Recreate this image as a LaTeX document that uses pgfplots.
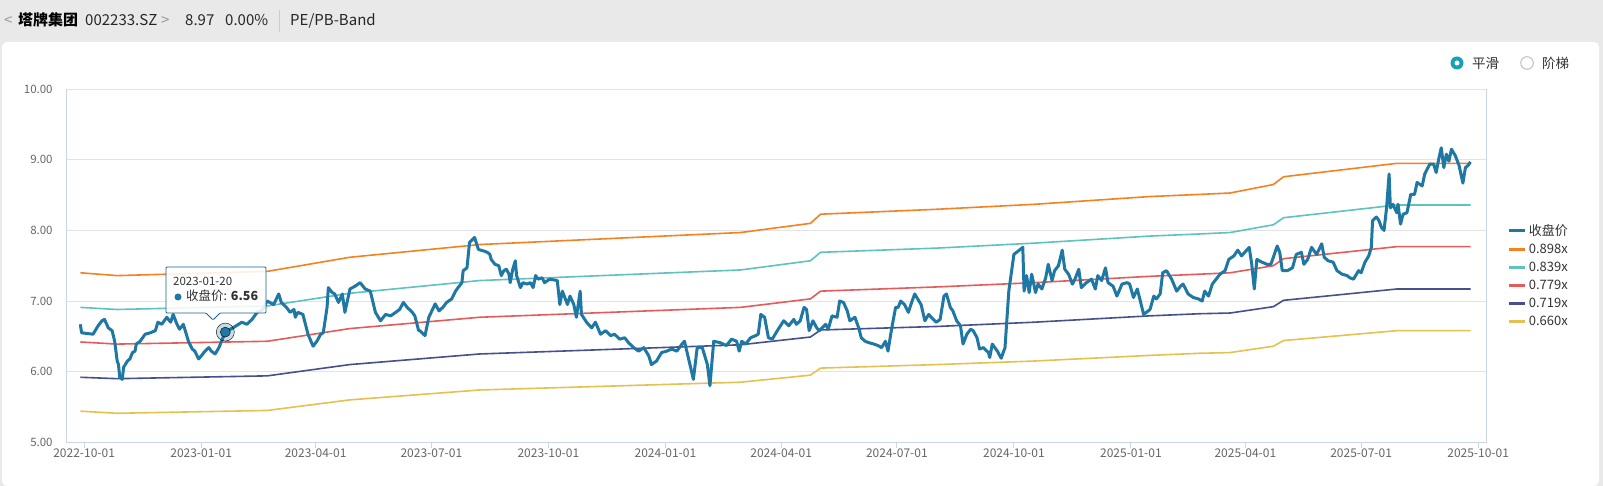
\documentclass[border=0pt]{standalone}
\usepackage{pgfplots}
\pgfplotsset{compat=1.18}
\usepackage{pgfplotstable}
\usepackage{fontspec}
\setmainfont{Noto Sans CJK SC}

\definecolor{pricec}{HTML}{1F77A4}
\definecolor{c898}{HTML}{F58220}
\definecolor{c839}{HTML}{5EC2C1}
\definecolor{c779}{HTML}{E45B5B}
\definecolor{c719}{HTML}{45508C}
\definecolor{c660}{HTML}{E6C150}
\definecolor{bggray}{HTML}{E9E9E9}
\definecolor{axc}{HTML}{C9D5E8}
\definecolor{gridc}{HTML}{E3E3E3}
\definecolor{labc}{HTML}{666666}
\definecolor{txtc}{HTML}{333333}
\definecolor{radioc}{HTML}{1A9FB4}

% days since 2022-10-01, close price
\pgfplotstableread{
d v
-3 6.67
-2 6.55
7 6.53
11 6.65
14 6.72
16 6.74
19 6.62
22 6.58
24 6.43
26 6.15
27 6.10
28 5.92
30 5.89
31 6.06
34 6.15
36 6.18
38 6.27
40 6.29
41 6.39
44 6.43
48 6.53
52 6.55
56 6.58
58 6.70
61 6.67
65 6.77
68 6.70
70 6.81
73 6.67
75 6.60
78 6.67
82 6.43
85 6.32
87 6.29
90 6.18
92 6.22
95 6.29
98 6.34
100 6.29
103 6.25
106 6.34
108 6.43
111 6.56
117 6.62
124 6.70
128 6.67
132 6.74
136 6.84
140 6.87
144 7.00
149 6.95
153 7.10
155 6.98
159 6.91
162 6.84
165 6.88
166 6.77
168 6.84
172 6.81
176 6.53
180 6.36
183 6.43
186 6.53
188 6.55
191 6.91
192 7.19
195 7.12
197 7.10
200 6.98
203 7.10
205 6.84
209 7.17
213 7.21
217 7.26
221 7.17
225 7.14
229 6.84
233 6.72
237 6.81
241 6.79
245 6.84
248 6.88
251 6.98
254 6.91
258 6.84
260 6.79
263 6.58
264 6.58
268 6.51
271 6.77
276 6.96
279 6.86
282 6.91
285 6.98
289 7.03
292 7.14
294 7.19
297 7.26
298 7.43
301 7.47
303 7.83
307 7.90
310 7.73
314 7.71
317 7.69
319 7.66
320 7.59
323 7.52
326 7.50
328 7.36
330 7.43
332 7.45
334 7.38
335 7.26
337 7.45
339 7.57
340 7.36
343 7.19
345 7.26
348 7.24
351 7.26
353 7.19
355 7.36
357 7.31
360 7.33
362 7.26
366 7.31
372 7.29
374 6.95
376 7.14
380 6.95
382 7.07
385 6.95
387 6.77
390 7.14
391 6.81
395 6.70
399 6.62
402 6.70
406 6.53
410 6.58
414 6.51
417 6.53
421 6.46
425 6.48
428 6.41
432 6.34
436 6.29
440 6.34
444 6.22
446 6.10
450 6.15
454 6.27
458 6.29
462 6.32
466 6.29
470 6.39
472 6.43
475 6.20
479 5.89
482 6.34
486 6.34
490 6.10
492 5.80
495 6.43
500 6.41
505 6.37
509 6.46
513 6.43
515 6.29
517 6.43
520 6.39
524 6.48
528 6.51
530 6.53
532 6.81
535 6.77
538 6.48
541 6.46
545 6.58
550 6.72
554 6.65
558 6.74
560 6.67
563 6.72
566 6.91
568 6.88
570 6.58
573 6.72
576 6.62
578 6.58
583 6.67
585 6.60
588 6.79
592 6.77
594 7.00
597 6.98
600 6.86
602 6.72
606 6.77
609 6.62
611 6.48
614 6.43
617 6.41
621 6.39
624 6.37
627 6.34
630 6.43
632 6.29
635 6.62
638 6.91
640 6.91
642 7.00
645 6.95
648 6.84
651 7.00
653 7.10
658 6.95
661 6.72
664 6.81
666 6.77
670 6.70
673 6.74
676 7.07
678 7.10
681 6.91
683 6.86
686 6.72
689 6.65
691 6.39
694 6.53
697 6.60
699 6.58
702 6.48
704 6.32
707 6.34
711 6.27
712 6.20
714 6.39
718 6.29
721 6.19
724 6.34
727 7.14
731 7.66
738 7.76
739 7.14
741 7.36
743 7.12
745 7.38
748 7.12
750 7.24
753 7.17
756 7.33
758 7.52
761 7.29
763 7.43
766 7.50
769 7.72
771 7.45
774 7.38
777 7.24
779 7.31
782 7.45
784 7.19
788 7.26
792 7.31
795 7.17
797 7.36
800 7.29
803 7.47
805 7.26
809 7.21
812 7.07
816 7.24
820 7.26
822 7.24
825 7.05
828 7.17
830 7.03
833 6.81
838 6.88
841 7.07
843 7.03
846 7.10
848 7.40
851 7.43
855 7.31
859 7.14
862 7.21
864 7.24
868 7.10
872 7.05
876 7.03
879 7.00
881 7.14
884 7.07
887 7.24
890 7.31
893 7.38
897 7.43
900 7.59
904 7.64
907 7.72
910 7.64
916 7.76
918 7.52
920 7.17
922 7.59
926 7.55
930 7.52
933 7.52
935 7.62
938 7.78
940 7.69
942 7.43
946 7.43
950 7.47
953 7.66
957 7.69
959 7.52
962 7.59
965 7.76
969 7.66
973 7.81
975 7.62
978 7.57
982 7.55
985 7.43
989 7.38
993 7.36
995 7.33
998 7.31
1002 7.43
1004 7.40
1007 7.55
1010 7.64
1012 7.76
1013 8.14
1016 8.19
1018 8.14
1020 8.04
1022 8.00
1024 8.32
1026 8.80
1027 8.32
1029 8.37
1032 8.25
1033 8.37
1035 8.09
1037 8.23
1040 8.25
1043 8.51
1046 8.51
1048 8.68
1052 8.63
1054 8.80
1058 8.94
1061 8.94
1063 8.82
1065 9.01
1067 9.17
1069 8.89
1071 9.08
1073 8.98
1075 9.15
1078 9.06
1081 8.92
1084 8.67
1086 8.89
1088 8.92
1090 8.97
}\close

% PB band lines
\pgfplotstableread{
d    b898 b839 b779 b719 b660
-3   7.40 6.91 6.42 5.92 5.44
26   7.36 6.88 6.39 5.90 5.41
144  7.42 6.93 6.43 5.94 5.45
209  7.62 7.11 6.61 6.10 5.60
311  7.80 7.29 6.77 6.25 5.74
516  7.97 7.44 6.91 6.38 5.85
571  8.10 7.57 7.03 6.49 5.95
579  8.23 7.69 7.14 6.59 6.05
671  8.30 7.75 7.20 6.64 6.10
747  8.37 7.82 7.26 6.70 6.15
838  8.48 7.92 7.35 6.79 6.23
877  8.51 7.95 7.38 6.82 6.26
901  8.53 7.97 7.40 6.83 6.27
935  8.65 8.08 7.50 6.92 6.36
943  8.76 8.18 7.60 7.01 6.44
1032 8.95 8.36 7.77 7.17 6.58
1090 8.95 8.36 7.77 7.17 6.58
}\bands

\begin{document}
\begin{tikzpicture}[x=1pt,y=1pt]
\fill[bggray] (0,0) rectangle (1603,486);
\fill[white, rounded corners=5pt] (2,0) -- (2,444) -- (1599,444) -- (1599,0) -- cycle;

% header
\begin{scope}[every node/.style={anchor=base west, inner sep=0pt, font=\fontsize{15}{18}\selectfont}]
  \node[text=black!40] at (4,460) {<};
  \node[text=black] at (18,460) {\bfseries 塔牌集团};
  \node[text=black!85] at (85,460) {002233.SZ};
  \node[text=black!40] at (161,460) {>};
  \node[text=black!85] at (185,460) {8.97};
  \node[text=black!85] at (225,460) {0.00\%};
  \node[text=black!85] at (290,460) {PE/PB-Band};
\end{scope}
\draw[black!20, line width=1pt] (279,454) -- (279,476);

% radio buttons
\fill[radioc] (1457,423) circle (6.5);
\fill[white] (1457,423) circle (2.5);
\draw[black!25, line width=1pt] (1527,423) circle (6.3);
\node[anchor=west, inner sep=0pt, text=txtc, font=\fontsize{13.5}{16}\selectfont] at (1472,423) {平滑};
\node[anchor=west, inner sep=0pt, text=txtc, font=\fontsize{13.5}{16}\selectfont] at (1542,423) {阶梯};

% axis box lands at (66,48)-(1486,401) with this placement
\begin{axis}[
  at={(52,62)}, anchor=south west,
  scale only axis, width=1420pt, height=353pt,
  xmin=-14.15, xmax=1102.3, ymin=5, ymax=10,
  axis line style={draw=none},
  ymajorgrids, major grid style={draw=gridc, line width=1pt},
  ytick={5,6,...,10},
  y tick label style={/pgf/number format/.cd, fixed, fixed zerofill, precision=2, assume math mode=true, /tikz/.cd,
    font=\fontsize{11.5}{13}\selectfont, text=labc, xshift=-4pt},
  ytick style={draw=none},
  xtick={0,92,182,273,365,457,548,639,731,823,913,1004,1096},
  xticklabels={2022-10-01,2023-01-01,2023-04-01,2023-07-01,2023-10-01,2024-01-01,2024-04-01,2024-07-01,2024-10-01,2025-01-01,2025-04-01,2025-07-01,2025-10-01},
  xticklabel style={font=\fontsize{12}{14}\selectfont, text=labc, yshift=2.5pt},
  tick pos=left, tick align=outside, major tick length=6pt,
  xtick style={draw=axc, line width=1pt},
  legend style={at={(1.0148,0.4717)}, anchor=west, draw=none, fill=none, inner sep=0pt,
    font=\fontsize{13}{15}\selectfont, text=txtc, row sep=2pt, nodes={inner sep=2.5pt}},
  legend cell align=left, reverse legend,
  legend image code/.code={\draw[#1, line width=3pt] (0pt,0pt) -- (16pt,0pt);},
  after end axis/.code={
    \draw[axc, line width=1pt] (rel axis cs:0,1) -- (rel axis cs:0,0) -- (rel axis cs:1,0) -- (rel axis cs:1,1);
  },
]
\addplot[c660, line width=1.6pt] table[x=d, y=b660] {\bands};
\addlegendentry{0.660x}
\addplot[c719, line width=1.6pt] table[x=d, y=b719] {\bands};
\addlegendentry{0.719x}
\addplot[c779, line width=1.6pt] table[x=d, y=b779] {\bands};
\addlegendentry{0.779x}
\addplot[c839, line width=1.6pt] table[x=d, y=b839] {\bands};
\addlegendentry{0.839x}
\addplot[c898, line width=1.6pt] table[x=d, y=b898] {\bands};
\addlegendentry{0.898x}
\addplot[pricec, line width=3pt, line join=round] table[x=d, y=v] {\close};
\addlegendentry{收盘价}
% hovered point
\addplot[forget plot, only marks, mark=*, mark size=9pt, mark options={fill=pricec, draw=none, fill opacity=0.25}] coordinates {(111,6.56)};
\addplot[forget plot, only marks, mark=*, mark size=5pt, mark options={fill=pricec, draw=none}] coordinates {(111,6.56)};
\end{axis}

% tooltip
\draw[pricec!85!black, line width=0.8pt, fill=white, fill opacity=0.88, rounded corners=1pt]
  (166,173) -- (206,173) -- (213,166) -- (220,173) -- (266,173) -- (266,219) -- (166,219) -- cycle;
\node[anchor=base west, inner sep=0pt, text=txtc, font=\fontsize{11.5}{13}\selectfont] at (173,200) {2023-01-20};
\fill[pricec] (178,189) circle (3.5);
\node[anchor=base west, inner sep=0pt, text=txtc, font=\fontsize{12.5}{14}\selectfont] at (186,185) {收盘价: \bfseries 6.56};
\end{tikzpicture}
\end{document}
